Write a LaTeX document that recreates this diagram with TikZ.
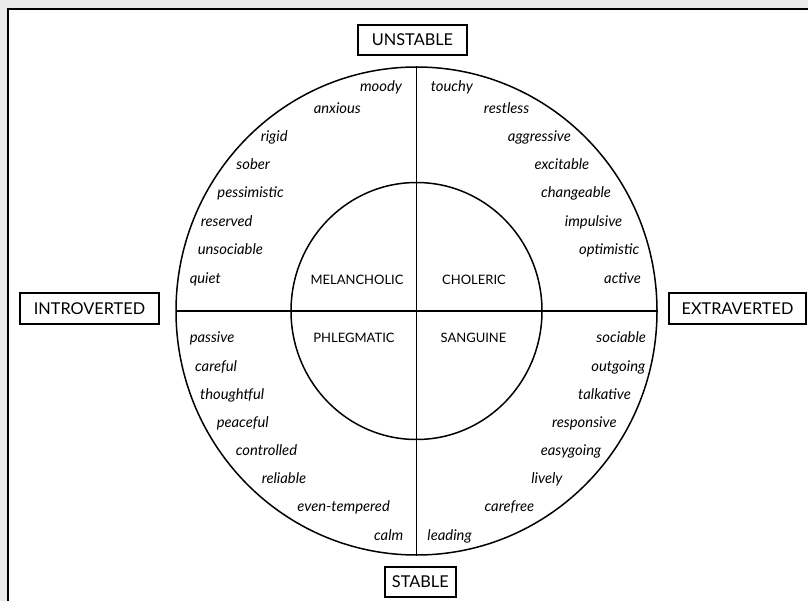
\documentclass[tikz,border=0pt]{standalone}
\usepackage{fontspec}
\setmainfont{Lato}
\definecolor{pagegray}{HTML}{EBEBEB}
\tikzset{
  axisbox/.style={draw, line width=2pt, inner sep=0pt, minimum height=30pt,
                  font=\fontsize{16.3}{18}\selectfont},
  temper/.style={inner sep=0pt, font=\fontsize{13}{15}\selectfont},
  trait/.style={inner sep=0pt, font=\fontsize{14.8}{16}\selectfont\itshape},
  traitW/.style={trait, anchor=base west},
  traitE/.style={trait, anchor=base east},
}

\begin{document}
\begin{tikzpicture}[x=1pt, y=-1pt, line width=1.5pt]
    \useasboundingbox (0,0) rectangle (808,601);
    \fill[pagegray] (0,0) rectangle (808,601);
    \draw[line width=1.8pt, fill=white] (8,9) rectangle (815,610);

    \coordinate (c) at (416.5,311);
    \draw (c) ellipse [x radius=240.5pt, y radius=244pt];
    \draw (c) ellipse [x radius=125.5pt, y radius=128.5pt];
    \draw (416.5,66.7) -- (416.5,555);
    \draw (176,311) -- (657,311);

    % the four poles
    \node[axisbox, minimum width=109.6pt] (unstable) at (412.5,40) {UNSTABLE};
    \node[axisbox, minimum width=70.7pt] (stable) at (420.3,581.7) {STABLE};
    \node[axisbox, minimum width=139pt, minimum height=31.3pt] (introv) at (89.5,308.3) {INTROVERTED};
    \node[axisbox, minimum width=137pt, minimum height=31.3pt] (extrav) at (737.5,308.3) {EXTRAVERTED};

    % the four temperaments
    \node[temper] (melan) at (357,280) {MELANCHOLIC};
    \node[temper] (chol) at (474,280) {CHOLERIC};
    \node[temper] (phleg) at (354,338) {PHLEGMATIC};
    \node[temper] (sang) at (473.5,338) {SANGUINE};

    % upper left
    \node[traitE] (moody) at (402.7,91.7) {moody};
    \node[traitW] (anxious) at (313,113.3) {anxious};
    \node[traitW] (rigid) at (260,141.7) {rigid};
    \node[traitW] (sober) at (235.7,170) {sober};
    \node[traitW] (pessim) at (216.7,198) {pessimistic};
    \node[traitW] (reserved) at (200,226.5) {reserved};
    \node[traitW] (unsoc) at (197,255) {unsociable};
    \node[traitW] (quiet) at (189,283.3) {quiet};

    % upper right
    \node[traitW] (touchy) at (430,91.7) {touchy};
    \node[traitE] (restless) at (530,113.3) {restless};
    \node[traitE] (aggr) at (571.7,141.7) {aggressive};
    \node[traitE] (excit) at (590,170) {excitable};
    \node[traitE] (change) at (611.7,198) {changeable};
    \node[traitE] (impuls) at (623,226.5) {impulsive};
    \node[traitE] (optim) at (640,255) {optimistic};
    \node[traitE] (active) at (641.7,283.3) {active};

    % lower left
    \node[traitW] (passive) at (189,342.5) {passive};
    \node[traitW] (careful) at (194.3,371) {careful};
    \node[traitW] (thought) at (199.3,399) {thoughtful};
    \node[traitW] (peace) at (216,427) {peaceful};
    \node[traitW] (control) at (235,455) {controlled};
    \node[traitW] (reliable) at (261,483.3) {reliable};
    \node[traitW] (eventemp) at (296.7,511.7) {even-tempered};
    \node[traitE] (calm) at (404,540) {calm};

    % lower right
    \node[traitE] (sociable) at (646.7,342.5) {sociable};
    \node[traitE] (outgoing) at (646,371) {outgoing};
    \node[traitE] (talk) at (631.7,399) {talkative};
    \node[traitE] (respons) at (617.3,427) {responsive};
    \node[traitE] (easy) at (602,455) {easygoing};
    \node[traitE] (lively) at (563.3,483.3) {lively};
    \node[traitE] (carefree) at (535,511.7) {carefree};
    \node[traitW] (leading) at (426.7,540) {leading};
\end{tikzpicture}
\end{document}
